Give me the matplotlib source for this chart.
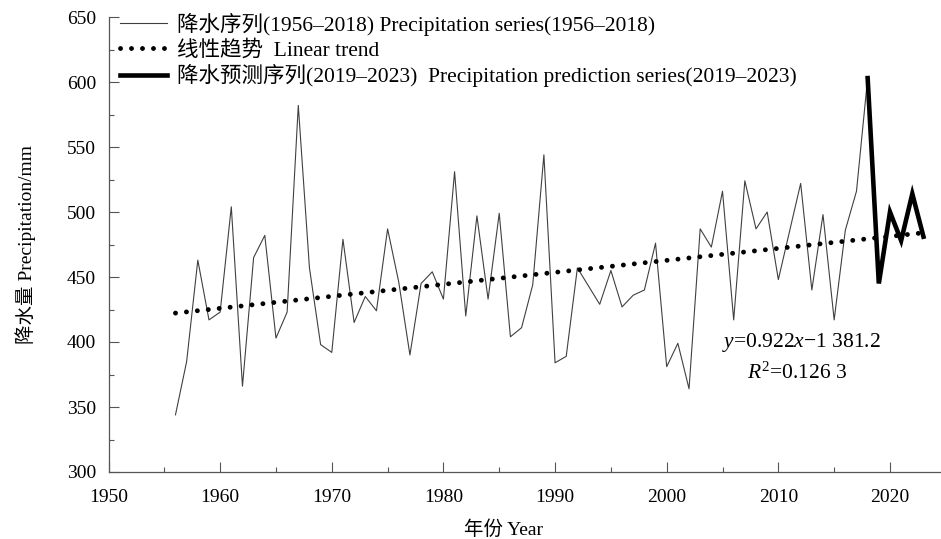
import numpy as np
import matplotlib
matplotlib.use("Agg")
import matplotlib.pyplot as plt
from matplotlib.ticker import MultipleLocator

# fonts: Times-like serif for latin, CJK fallback for the Chinese characters
plt.rcParams['font.family'] = ['Liberation Serif', 'Noto Sans CJK SC']
plt.rcParams['mathtext.fontset'] = 'custom'
plt.rcParams['mathtext.rm'] = 'Liberation Serif'
plt.rcParams['mathtext.it'] = 'Liberation Serif:italic'

# observed precipitation 1956-2018 (mm)
years = list(range(1956, 2019))
precip = [344, 385, 463, 417,
          423, 504, 366, 465, 482, 403, 423, 582, 457, 398,
          392, 479, 415, 435, 424, 487, 446, 390, 445, 454,
          433, 531, 420, 497, 433, 499, 404, 411, 444, 544,
          384, 389, 457, 443, 429, 455, 427, 436, 440, 476,
          381, 399, 364, 487, 473, 516, 417, 524, 487, 500,
          448, 485, 522, 440, 498, 417, 486, 516, 603]

# prediction 2019-2023 (starts from the 2018 value so the line joins)
pred_years = [2018, 2019, 2020, 2021, 2022, 2023]
pred_precip = [603, 445, 500, 478, 514, 481]

# linear trend y = 0.922x - 1381.2
slope = 0.922
intercept = -1381.2
trend_years = [1956, 2023]

legend_labels = ['降水序列(1956–2018) Precipitation series(1956–2018)',
                 '线性趋势  Linear trend',
                 '降水预测序列(2019–2023)  Precipitation prediction series(2019–2023)']

fig = plt.figure(figsize=(9.41, 5.39), dpi=100)
ax = fig.add_axes([108.5 / 941, 1 - 472 / 539, 837.3 / 941, 455 / 539])

l1, = ax.plot(years, precip, color='#404040', lw=0.8)
trend_y = [slope * y + intercept for y in trend_years]
l2, = ax.plot(trend_years, trend_y, color='black', lw=3.5,
              linestyle=(0, (0.01, 2.25)), dash_capstyle='round')
l3, = ax.plot(pred_years, pred_precip, color='black', lw=3.3,
              solid_joinstyle='miter')

ax.set_xlim(1950, 2025)
ax.set_ylim(300, 650)
ax.xaxis.set_major_locator(MultipleLocator(10))
ax.xaxis.set_minor_locator(MultipleLocator(5))
ax.yaxis.set_major_locator(MultipleLocator(50))
ax.yaxis.set_minor_locator(MultipleLocator(25))

for s in ['top', 'right']:
    ax.spines[s].set_visible(False)
for s in ['left', 'bottom']:
    ax.spines[s].set_color('#555555')
    ax.spines[s].set_linewidth(0.9)

ax.tick_params(axis='both', which='major', direction='in', length=7,
               width=0.8, color='#555555', labelsize=14)
ax.tick_params(axis='both', which='minor', direction='in', length=3.5,
               width=0.8, color='#555555')
ax.tick_params(axis='x', which='major', pad=12)
ax.tick_params(axis='y', which='major', pad=9)

ax.set_xlabel('年份 Year', fontsize=14)
ax.xaxis.set_label_coords((503 - 108.5) / 837.3, -0.107)
ax.set_ylabel('降水量 Precipitation/mm', fontsize=14, labelpad=22)

ax.text(801 / 941, 1 - 342 / 539, r'$y$=0.922$x$−1 381.2',
        transform=fig.transFigure, fontsize=15.5, ha='center', va='center')
ax.text(797 / 941, 1 - 373 / 539, r'$R^2$=0.126 3',
        transform=fig.transFigure, fontsize=15.5, ha='center', va='center')

leg = ax.legend([l1, l2, l3], legend_labels, loc='upper left',
                bbox_to_anchor=(120 / 941, 1 - 13 / 539),
                bbox_transform=fig.transFigure, frameon=False, fontsize=15.5,
                handlelength=2.2, handletextpad=0.45, labelspacing=0.18,
                borderpad=0, borderaxespad=0)

fig.savefig('out.png', dpi=100)
